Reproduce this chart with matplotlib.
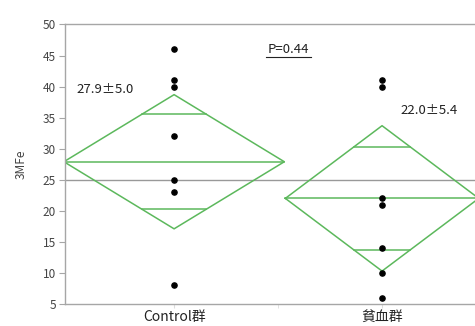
import numpy as np
import matplotlib.pyplot as plt

plt.rcParams['font.family'] = ['Noto Sans CJK JP', 'DejaVu Sans']

# data
groups = ['Control群', '貧血群']
control_vals = [46, 41, 40, 32, 25, 23, 8]
anemia_vals = [41, 40, 22, 21, 14, 10, 6]
means = [27.9, 22.0]
ci_half = [10.8, 11.7]          # 95% CI half width (diamond height)
diamond_w = [0.53, 0.465]       # diamond half width (sample size)
labels = ['27.9±5.0', '22.0±5.4']
grand_mean = 25
p_text = 'P=0.44'

green = '#5cb85c'
grey = '#a6a6a6'

fig = plt.figure(figsize=(4.75, 3.26), dpi=100)
ax = fig.add_axes([0.1358, 0.0675, 0.8642, 0.8575])

ax.axhline(grand_mean, color='#999999', lw=1.0, zorder=1)

for i, (m, c, w) in enumerate(zip(means, ci_half, diamond_w)):
    xs = [i - w, i, i + w, i, i - w]
    ys = [m, m + c, m, m - c, m]
    ax.plot(xs, ys, color=green, lw=1.1, zorder=2)
    ax.plot([i - w, i + w], [m, m], color=green, lw=1.1, zorder=2)
    # overlap marks at mean +/- ci/sqrt(2)
    d = c / np.sqrt(2)
    frac = 1 - d / c
    for s in (1, -1):
        ax.plot([i - w * frac, i + w * frac], [m + s * d, m + s * d],
                color=green, lw=1.1, zorder=2)

ax.scatter(np.zeros(len(control_vals)), control_vals, s=14, color='black', zorder=3)
ax.scatter(np.ones(len(anemia_vals)), anemia_vals, s=14, color='black', zorder=3)

ax.text(-0.47, 39.5, labels[0], fontsize=9.5, color='#222222', va='center')
ax.text(1.09, 36.1, labels[1], fontsize=9.5, color='#222222', va='center')

ax.text(0.55, 45.9, p_text, fontsize=9.5, color='#222222', ha='center', va='center')
ax.plot([0.44, 0.66], [44.7, 44.7], color='#222222', lw=0.8)

ax.set_xlim(-0.527, 1.447)
ax.set_ylim(5, 50)
ax.set_yticks(range(5, 51, 5))
ax.set_xticks([0, 1])
ax.set_xticklabels(groups, fontsize=10, color='#222222')
ax.set_xticks([0.5], minor=True)
ax.tick_params(axis='x', which='both', length=3, color='#dddddd', pad=1)
ax.tick_params(axis='y', length=4, color=grey, labelsize=8.5, labelcolor='#444444', pad=2)
ax.set_ylabel('3MFe', fontsize=8.5, color='#444444', labelpad=11)

for side in ['left', 'top', 'bottom']:
    ax.spines[side].set_color(grey)
    ax.spines[side].set_linewidth(1.0)
ax.spines['right'].set_visible(False)

fig.savefig('out.png', dpi=100)
